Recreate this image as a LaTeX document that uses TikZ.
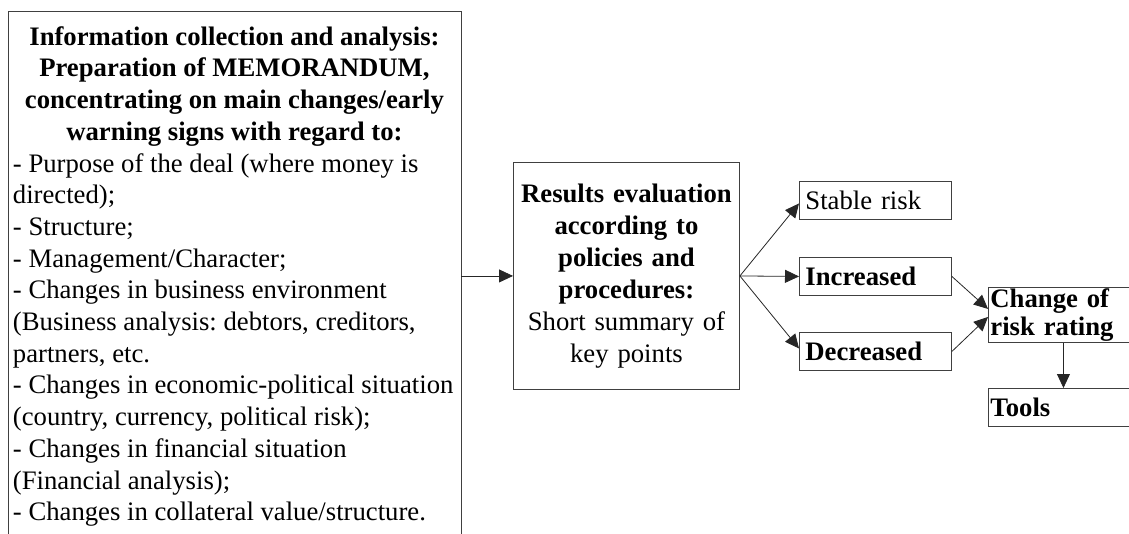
\documentclass[tikz,border=0pt]{standalone}
\usepackage{fontspec}
\setmainfont{Liberation Serif}
\usetikzlibrary{arrows.meta,calc}
\begin{document}
\begin{tikzpicture}[x=1pt,y=-1pt,
  box/.style={draw=black!75, line width=0.9pt, rectangle, inner sep=0pt},
  smallbox/.style={box, anchor=north west, inner xsep=6pt, text width=140pt, minimum width=152pt, minimum height=38pt, align=left},
  arr/.style={draw=black!85, line width=0.8pt, -{Triangle[length=14pt,width=13pt]}},
  txt/.style={font=\fontsize{26.7}{31.7}\selectfont\frenchspacing},
  btxt/.style={font=\fontsize{26.7}{31.7}\selectfont\frenchspacing\bfseries},
]
\path[use as bounding box] (0,0) rectangle (1129,534);
\clip (0,0) rectangle (1129,534);

% big information box
\node (info) [box, txt, anchor=north west, inner xsep=5pt, inner ysep=15pt] at (7.5,11)
 {\parbox[t][560pt][t]{443pt}{\centering\bfseries
  Information collection and analysis:\\
  Preparation of MEMORANDUM,\\
  concentrating on main changes/early\\
  warning signs with regard to:\par
  \raggedright\mdseries
  - Purpose of the deal (where money is\\
  directed);\\
  - Structure;\\
  - Management/Character;\\
  - Changes in business environment\\
  (Business analysis: debtors, creditors,\\
  partners, etc.\\
  - Changes in economic-political situation\\
  (country, currency, political risk);\\
  - Changes in financial situation\\
  (Financial analysis);\\
  - Changes in collateral value/structure.\par}};

% middle box
\node (mid) [box, anchor=north west, minimum width=226pt, minimum height=227pt,
  text width=220pt, align=center, font=\fontsize{26.7}{32}\selectfont\frenchspacing] at (513,162)
 {\textbf{Results evaluation}\\\textbf{according to}\\\textbf{policies and}\\\textbf{procedures:}\\Short summary of\\key points};

% right boxes
\node (stable) [smallbox, txt] at (799,181) {Stable risk};
\node (inc) [smallbox, btxt] at (799,257) {Increased};
\node (dec) [smallbox, btxt] at (799,332) {Decreased};
\node (chg) [box, anchor=north west, inner xsep=2pt, text width=146pt, minimum width=150pt,
  minimum height=55pt, align=left, font=\fontsize{26.7}{28}\selectfont\frenchspacing\bfseries] at (988,287)
  {Change of\\risk rating};
\node (tools) [box, btxt, anchor=north west, inner xsep=2pt, text width=146pt, minimum width=150pt,
  minimum height=38pt, align=left] at (988,388) {Tools};

% connectors
\draw[arr] (info.east |- mid.west) -- (mid.west);
\draw[arr] (mid.east) -- ([yshift=-3pt]stable.west);
\draw[arr] (mid.east) -- (inc.west);
\draw[arr] (mid.east) -- ([yshift=3pt]dec.west);
\draw[arr] (inc.east) -- ([yshift=6pt]chg.west);
\draw[arr] (dec.east) -- ([yshift=-2pt]chg.west);
\draw[arr] (chg.south) -- (tools.north);
\end{tikzpicture}
\end{document}
